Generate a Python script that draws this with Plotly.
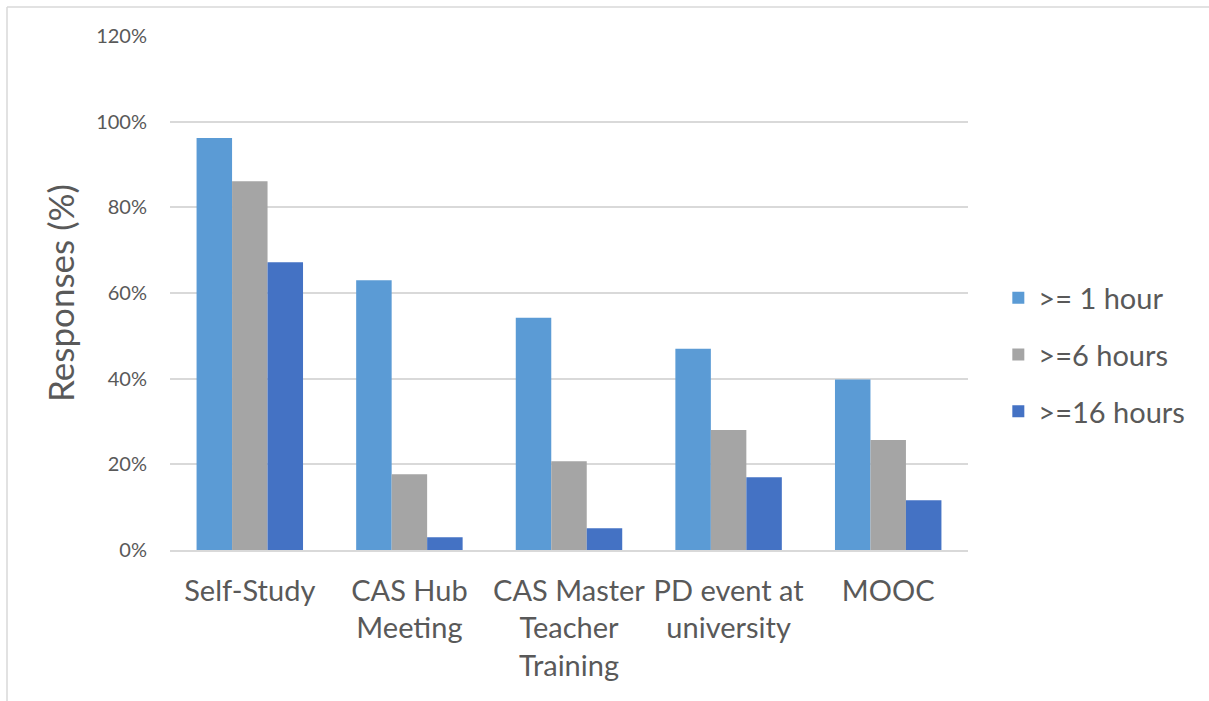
import plotly.graph_objects as go

categories = ["Self-Study", "CAS Hub<br>Meeting", "CAS Master<br>Teacher<br>Training",
              "PD event at<br>university", "MOOC"]
series_names = [">= 1 hour", ">=6 hours", ">=16 hours"]
ge1 = [0.962, 0.630, 0.542, 0.470, 0.398]
ge6 = [0.861, 0.177, 0.207, 0.280, 0.257]
ge16 = [0.672, 0.030, 0.051, 0.170, 0.116]
colors = ["#5B9BD5", "#A5A5A5", "#4472C4"]
y_ticks = [0, 0.2, 0.4, 0.6, 0.8, 1.0, 1.2]

FONT = "Lato"
TXT = "#595959"

fig = go.Figure()
for name, vals, col in zip(series_names, [ge1, ge6, ge16], colors):
    fig.add_trace(go.Bar(x=categories, y=vals, name=name, marker_color=col,
                         marker_line_width=0, legendgroup=name))

fig.update_layout(
    width=1209, height=701,
    margin=dict(l=170, r=241, t=36, b=151, pad=0),
    paper_bgcolor="white", plot_bgcolor="white",
    barmode="group", bargap=0.333, bargroupgap=0,
    font=dict(family=FONT, color=TXT),
    legend=dict(x=1.038, y=(550 - 355) / 514, xanchor="left", yanchor="middle",
                font=dict(size=29, color=TXT), tracegroupgap=16,
                itemwidth=30),
    showlegend=True,
)
fig.update_xaxes(showgrid=False, showline=True, linecolor="#D9D9D9", linewidth=1.5,
                 ticks="", tickfont=dict(size=29, color=TXT), tickangle=0,
                 ticklabelstandoff=14)
fig.update_yaxes(range=[0, 1.2], tickvals=y_ticks, tickformat=".0%",
                 showgrid=True, gridcolor="#D9D9D9", gridwidth=1.5,
                 zeroline=False, showline=False, ticks="",
                 tickfont=dict(size=20, color=TXT), ticklabelstandoff=22,
                 title=dict(text="Responses (%)", font=dict(size=35, color=TXT), standoff=10))

# outer chart-area frame (partially visible at left/top)
fig.add_shape(type="line", xref="paper", yref="paper",
              x0=(7 - 170) / 798, x1=1.4, y0=(701 - 7 - 151) / 514, y1=(701 - 7 - 151) / 514,
              line=dict(color="#D9D9D9", width=1.5))
fig.add_shape(type="line", xref="paper", yref="paper",
              x0=(7 - 170) / 798, x1=(7 - 170) / 798, y0=-0.4, y1=(701 - 7 - 151) / 514,
              line=dict(color="#D9D9D9", width=1.5))

fig.write_html("out.html")
